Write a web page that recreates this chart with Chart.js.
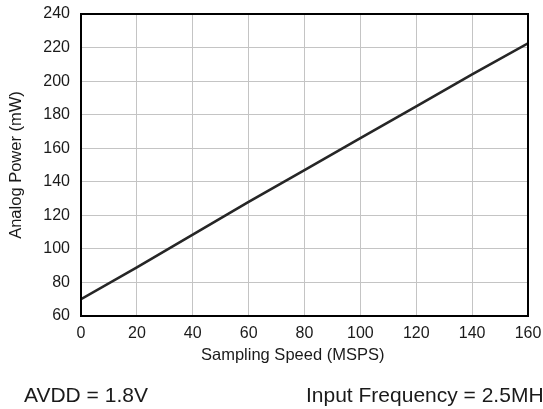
<!DOCTYPE html>
<html>
<head>
<meta charset="utf-8">
<script src="https://cdn.jsdelivr.net/npm/chart.js@4/dist/chart.umd.min.js"></script>
<style>
  html, body { margin: 0; padding: 0; background: #fff; overflow: hidden; }
  #wrap { position: relative; width: 543px; height: 409px; overflow: hidden; }
  #c { position: absolute; left: 0; top: 0; }
  .txt { position: absolute; font-family: "Liberation Sans", Arial, sans-serif; color: #1a1a1a; white-space: nowrap; }
  #xtitle { left: 201px; top: 344px; font-size: 16.5px; line-height: 20px; }
  #foot1 { left: 24px; top: 383px; font-size: 21px; line-height: 24px; }
  #foot2 { left: 306px; top: 383px; font-size: 21px; line-height: 24px; }
</style>
</head>
<body>
<div id="wrap">
  <canvas id="c" width="543" height="409"></canvas>
  <div class="txt" id="xtitle">Sampling Speed (MSPS)</div>
  <div class="txt" id="foot1">AVDD = 1.8V</div>
  <div class="txt" id="foot2">Input Frequency = 2.5MHz</div>
</div>
<script>
const samplingSpeed = [0, 20, 40, 60, 80, 100, 120, 140, 160];
const analogPower = [70, 89, 108.5, 128, 147, 166, 185, 204, 222.5];
const xTitle = "Sampling Speed (MSPS)";
const yTitle = "Analog Power (mW)";

const frame = {
  id: 'frame',
  afterDatasetsDraw(chart) {
    const a = chart.chartArea, ctx = chart.ctx;
    ctx.save();
    ctx.strokeStyle = '#000';
    ctx.lineWidth = 2;
    ctx.strokeRect(a.left, a.top, a.right - a.left, a.bottom - a.top);
    ctx.restore();
  }
};

function zeroPad(s) { s.paddingLeft = 0; s.paddingRight = 0; s.paddingTop = 0; s.paddingBottom = 0; }

new Chart(document.getElementById('c'), {
  type: 'line',
  data: {
    datasets: [{
      data: samplingSpeed.map((x, i) => ({ x: x, y: analogPower[i] })),
      borderColor: '#262626',
      borderWidth: 2.6,
      pointRadius: 0,
      tension: 0,
      fill: false
    }]
  },
  options: {
    responsive: false,
    animation: false,
    devicePixelRatio: 1,
    layout: { padding: { left: 0, right: 15, top: 14, bottom: 0 } },
    plugins: { legend: { display: false }, tooltip: { enabled: false } },
    scales: {
      x: {
        type: 'linear',
        min: 0, max: 160,
        afterFit: s => { s.height = 93; zeroPad(s); },
        ticks: { stepSize: 20, padding: 8, color: '#1a1a1a', maxRotation: 0,
          font: { family: '"Liberation Sans", Arial, sans-serif', size: 16 } },
        grid: { color: '#c4c4c4', lineWidth: 1, drawTicks: false },
        border: { display: false },
        title: { display: false, text: xTitle }
      },
      y: {
        min: 60, max: 240,
        afterFit: s => { s.width = 81; zeroPad(s); },
        ticks: { stepSize: 20, padding: 11, color: '#1a1a1a',
          font: { family: '"Liberation Sans", Arial, sans-serif', size: 16 } },
        grid: { color: '#c4c4c4', lineWidth: 1, drawTicks: false },
        border: { display: false },
        title: { display: true, text: yTitle, color: '#1a1a1a', padding: { top: 7, bottom: 0 },
          font: { family: '"Liberation Sans", Arial, sans-serif', size: 16.5 } }
      }
    }
  },
  plugins: [frame]
});
</script>
</body>
</html>
